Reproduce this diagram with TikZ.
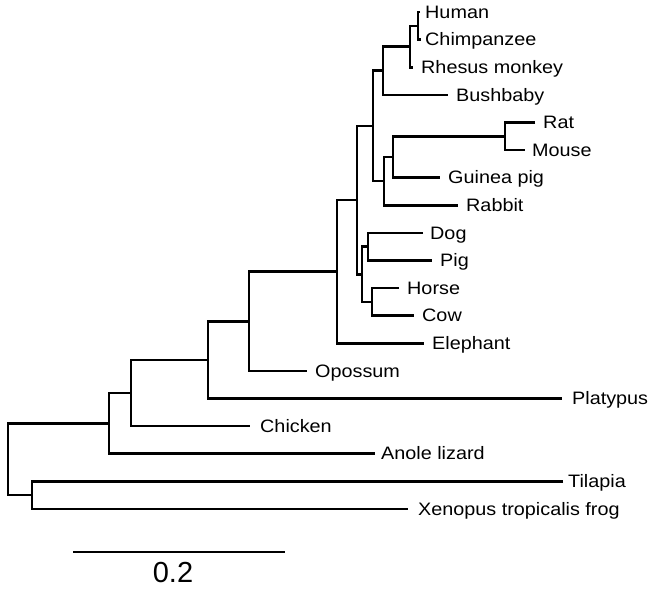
\documentclass[tikz,border=0pt]{standalone}
\usepackage{fontspec}
\setmainfont{Liberation Sans}[FakeStretch=1.1]
\newfontfamily\scaleBarFont{Liberation Sans}
\usepackage{tikz}
\usetikzlibrary{positioning}

\begin{document}
\begin{tikzpicture}
      [x=1pt,y=-1pt,
       branch/.style={line width=2.6pt},
       taxonLabel/.style={inner sep=0pt,text height=12.7pt,text depth=0pt,font=\fontsize{18}{20}\selectfont,node distance=8pt}]
      \useasboundingbox (0,0) rectangle (654,589);
      \coordinate (human) at (420,12);
      \coordinate (chimp) at (421,39.6);
      \coordinate (rhesus) at (413,67.2);
      \coordinate (bushbaby) at (448,94.8);
      \coordinate (rat) at (535,122.4);
      \coordinate (mouse) at (525,150);
      \coordinate (guineaPig) at (440,177.6);
      \coordinate (rabbit) at (458,205.2);
      \coordinate (dog) at (423,232.8);
      \coordinate (pig) at (432,260.4);
      \coordinate (horse) at (399,288);
      \coordinate (cow) at (414,315.6);
      \coordinate (elephant) at (424,343.2);
      \coordinate (opossum) at (307,370.8);
      \coordinate (platypus) at (562,398.4);
      \coordinate (chicken) at (250,426);
      \coordinate (anoleLizard) at (375,453.6);
      \coordinate (tilapia) at (563,481.2);
      \coordinate (xenopusFrog) at (408,508.8);
      \coordinate (humanChimp) at (418,25.8);
      \coordinate (apes) at (410,46.5);
      \coordinate (primates) at (383,70.65);
      \coordinate (ratMouse) at (505,136.2);
      \coordinate (rodents) at (393,156.9);
      \coordinate (glires) at (384,181.05);
      \coordinate (euarchonto) at (373,125.85);
      \coordinate (dogPig) at (368,246.6);
      \coordinate (horseCow) at (372,301.8);
      \coordinate (laurasia) at (362,274.2);
      \coordinate (boreo) at (357,200);
      \coordinate (eutheria) at (337,271.6);
      \coordinate (theria) at (249,321.2);
      \coordinate (mammals) at (208,359.8);
      \coordinate (withChicken) at (131,392.9);
      \coordinate (amniotes) at (109,423.25);
      \coordinate (fishFrog) at (32,495);
      \coordinate (root) at (8,459.1);
      \draw[branch] (human) -| (humanChimp) |- (chimp);
      \draw[branch] (humanChimp) -| (apes) |- (rhesus);
      \draw[branch] (apes) -| (primates) |- (bushbaby);
      \draw[branch] (rat) -| (ratMouse) |- (mouse);
      \draw[branch] (ratMouse) -| (rodents) |- (guineaPig);
      \draw[branch] (rodents) -| (glires) |- (rabbit);
      \draw[branch] (primates) -| (euarchonto) |- (glires);
      \draw[branch] (dog) -| (dogPig) |- (pig);
      \draw[branch] (horse) -| (horseCow) |- (cow);
      \draw[branch] (dogPig) -| (laurasia) |- (horseCow);
      \draw[branch] (euarchonto) -| (boreo) |- (laurasia);
      \draw[branch] (boreo) -| (eutheria) |- (elephant);
      \draw[branch] (eutheria) -| (theria) |- (opossum);
      \draw[branch] (theria) -| (mammals) |- (platypus);
      \draw[branch] (mammals) -| (withChicken) |- (chicken);
      \draw[branch] (withChicken) -| (amniotes) |- (anoleLizard);
      \draw[branch] (tilapia) -| (fishFrog) |- (xenopusFrog);
      \draw[branch] (amniotes) -| (root) |- (fishFrog);
      \node[taxonLabel] (humanLabel) [right=5pt of human] {Human};
      \node[taxonLabel] (chimpLabel) [right=4pt of chimp] {Chimpanzee};
      \node[taxonLabel] (rhesusLabel) [right=of rhesus] {Rhesus monkey};
      \node[taxonLabel] (bushbabyLabel) [right=of bushbaby] {Bushbaby};
      \node[taxonLabel] (ratLabel) [right=of rat] {Rat};
      \node[taxonLabel] (mouseLabel) [right=7pt of mouse] {Mouse};
      \node[taxonLabel] (guineaPigLabel) [right=of guineaPig] {Guinea pig};
      \node[taxonLabel] (rabbitLabel) [right=of rabbit] {Rabbit};
      \node[taxonLabel] (dogLabel) [right=7pt of dog] {Dog};
      \node[taxonLabel] (pigLabel) [right=of pig] {Pig};
      \node[taxonLabel] (horseLabel) [right=of horse] {Horse};
      \node[taxonLabel] (cowLabel) [right=of cow] {Cow};
      \node[taxonLabel] (elephantLabel) [right=of elephant] {Elephant};
      \node[taxonLabel] (opossumLabel) [right=of opossum] {Opossum};
      \node[taxonLabel] (platypusLabel) [right=10pt of platypus] {Platypus};
      \node[taxonLabel] (chickenLabel) [right=10pt of chicken] {Chicken};
      \node[taxonLabel] (anoleLizardLabel) [right=6pt of anoleLizard] {Anole lizard};
      \node[taxonLabel] (tilapiaLabel) [right=5pt of tilapia] {Tilapia};
      \node[taxonLabel] (xenopusFrogLabel) [right=10pt of xenopusFrog] {Xenopus tropicalis frog};
      \coordinate (barLeft) at (73,552);
      \coordinate (barRight) at (285,552);
      \draw[branch] (barLeft) -- (barRight);
      \node[inner sep=0pt,font=\scaleBarFont\fontsize{29}{32}\selectfont] (barLabel) at (173,573) {0.2};
    \end{tikzpicture}
\end{document}
